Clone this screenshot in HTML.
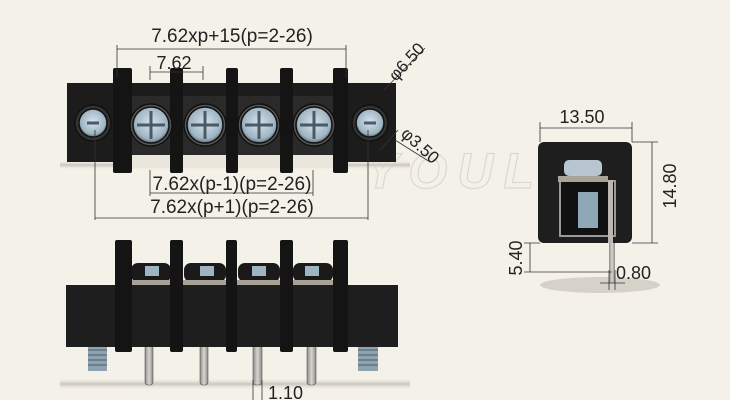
<!DOCTYPE html>
<html><head><meta charset="utf-8"><style>
html,body{margin:0;padding:0;background:#f4f1e9;}
svg{display:block}
text{font-family:"Liberation Sans",sans-serif;fill:#222;}
</style></head><body>
<svg width="730" height="400" viewBox="0 0 730 400" xmlns="http://www.w3.org/2000/svg">
<defs>
<radialGradient id="scr" cx="50%" cy="45%" r="55%"><stop offset="0" stop-color="#d6e4ee"/><stop offset="0.8" stop-color="#9fb4c2"/><stop offset="1" stop-color="#5d6c76"/></radialGradient>
<linearGradient id="pin" x1="0" x2="1"><stop offset="0" stop-color="#8c8a86"/><stop offset="0.5" stop-color="#d8d6d0"/><stop offset="1" stop-color="#8c8a86"/></linearGradient>
<linearGradient id="shd" x1="0" y1="0" x2="0" y2="1"><stop offset="0" stop-color="#f4f1e9" stop-opacity="0"/><stop offset="0.5" stop-color="#c9c5bc"/><stop offset="1" stop-color="#f4f1e9" stop-opacity="0"/></linearGradient>
</defs>
<rect width="730" height="400" fill="#f4f1e9"/>

<!-- watermark -->
<text x="365" y="188" font-size="50" font-style="italic" font-weight="bold" stroke="#dcd8cf" stroke-width="1.2" style="fill:none" letter-spacing="10">YOULE</text>

<!-- ===== TOP VIEW ===== -->
<rect x="60" y="160" width="350" height="10" fill="url(#shd)"/>
<rect x="67" y="83" width="329" height="79" fill="#1c1c1c"/>
<rect x="130" y="96" width="205" height="62" fill="#2a2a2a"/>
<rect x="130" y="155" width="205" height="12" fill="#eae6dc"/>
<g fill="#141414">
<rect x="113" y="68" width="19" height="105" rx="2"/>
<rect x="170" y="68" width="13" height="105" rx="2"/>
<rect x="226" y="68" width="12" height="105" rx="2"/>
<rect x="280" y="68" width="13" height="105" rx="2"/>
<rect x="333" y="68" width="15" height="105" rx="2"/>
</g>
<g stroke="#111" stroke-width="1.5">
<circle cx="93" cy="123" r="18" fill="#333"/><circle cx="93" cy="123" r="14" fill="url(#scr)"/>
<circle cx="370" cy="123" r="18" fill="#333"/><circle cx="370" cy="123" r="14" fill="url(#scr)"/>
<circle cx="151" cy="125" r="21" fill="#555"/><circle cx="151" cy="125" r="18" fill="url(#scr)"/>
<circle cx="205" cy="125" r="21" fill="#555"/><circle cx="205" cy="125" r="18" fill="url(#scr)"/>
<circle cx="259" cy="125" r="21" fill="#555"/><circle cx="259" cy="125" r="18" fill="url(#scr)"/>
<circle cx="314" cy="125" r="21" fill="#555"/><circle cx="314" cy="125" r="18" fill="url(#scr)"/>
</g>
<g stroke="#4a5a66" stroke-width="3">
<path d="M151 111v28M137 125h28M205 111v28M191 125h28M259 111v28M245 125h28M314 111v28M300 125h28M87 123h12M364 123h12"/>
</g>

<!-- top dims -->
<g stroke="#333" stroke-width="0.8" fill="none">
<path d="M117 49H346M117 45V78M346 45V78"/>
<path d="M150 72H203M150 66V80M203 66V80"/>
<path d="M150 193H313M150 170V196M313 170V196"/>
<path d="M95 218H368M95 130V220M368 130V220"/>
<path d="M384 90L425 48"/>
<path d="M380 150L398 130M395 140L430 162"/>
</g>
<text x="232" y="42" font-size="19" text-anchor="middle">7.62xp+15(p=2-26)</text>
<text x="174" y="69" font-size="18" text-anchor="middle">7.62</text>
<text x="232" y="190" font-size="19" text-anchor="middle">7.62x(p-1)(p=2-26)</text>
<text x="232" y="213" font-size="19" text-anchor="middle">7.62x(p+1)(p=2-26)</text>
<text x="0" y="0" font-size="17" transform="translate(396,82) rotate(-48)">φ6.50</text>
<text x="0" y="0" font-size="17" transform="translate(400,135) rotate(42)">φ3.50</text>

<!-- ===== SIDE VIEW ===== -->
<ellipse cx="600" cy="285" rx="60" ry="8" fill="#d6d2ca"/>
<rect x="538" y="142" width="94" height="101" rx="6" fill="#1e1e1e"/>
<rect x="560" y="181" width="55" height="55" fill="#111" stroke="#999" stroke-width="2"/>
<rect x="578" y="192" width="20" height="36" fill="#8fa8b8"/>
<rect x="564" y="160" width="38" height="16" rx="5" fill="#b7c6d0"/>
<rect x="558" y="176" width="50" height="6" fill="#aaa39a"/>
<rect x="608" y="180" width="5" height="63" fill="#bcb8b0"/>
<rect x="609" y="243" width="6" height="40" fill="url(#pin)"/>
<g stroke="#333" stroke-width="0.8" fill="none">
<path d="M540 128H632M540 122V142M632 122V142"/>
<path d="M652 142V243M632 142H658M632 243H658"/>
<path d="M530 243V272M524 243H540M524 272H612"/>
<path d="M600 283H625M609 270V290M615 270V290"/>
</g>
<text x="582" y="123" font-size="18" text-anchor="middle">13.50</text>
<text x="0" y="0" font-size="18" text-anchor="middle" transform="translate(676,186) rotate(-90)">14.80</text>
<text x="0" y="0" font-size="18" text-anchor="middle" transform="translate(522,258) rotate(-90)">5.40</text>
<text x="616" y="279" font-size="18">0.80</text>

<!-- ===== FRONT VIEW ===== -->
<rect x="60" y="378" width="350" height="12" fill="url(#shd)"/>
<g fill="url(#pin)" stroke="#555" stroke-width="0.6">
<rect x="145" y="345" width="8" height="40" rx="3"/>
<rect x="200" y="345" width="8" height="40" rx="3"/>
<rect x="253" y="345" width="9" height="40" rx="3"/>
<rect x="307" y="345" width="9" height="40" rx="3"/>
</g>
<g fill="#8ea3b2">
<rect x="88" y="345" width="19" height="26"/>
<rect x="358" y="345" width="20" height="26"/>
</g>
<g stroke="#5b6a74" stroke-width="1.2">
<path d="M88 350h19M88 355h19M88 360h19M88 365h19M358 350h20M358 355h20M358 360h20M358 365h20"/>
</g>
<g fill="#1a1a1a">
<rect x="131" y="263" width="40" height="19" rx="7"/>
<rect x="184" y="263" width="42" height="19" rx="7"/>
<rect x="238" y="263" width="42" height="19" rx="7"/>
<rect x="293" y="263" width="40" height="19" rx="7"/>
</g>
<g fill="#9fb4c2">
<rect x="145" y="266" width="14" height="10"/><rect x="200" y="266" width="14" height="10"/>
<rect x="252" y="266" width="14" height="10"/><rect x="305" y="266" width="14" height="10"/>
</g>
<rect x="130" y="280" width="205" height="6" fill="#a8a296"/>
<rect x="66" y="285" width="332" height="62" fill="#1e1e1e"/>
<g fill="#141414">
<rect x="115" y="240" width="17" height="112" rx="2"/>
<rect x="170" y="240" width="13" height="112" rx="2"/>
<rect x="226" y="240" width="11" height="112" rx="2"/>
<rect x="280" y="240" width="13" height="112" rx="2"/>
<rect x="333" y="240" width="15" height="112" rx="2"/>
</g>
<g stroke="#333" stroke-width="0.8" fill="none">
<path d="M253 380V400M262 380V400"/>
</g>
<text x="268" y="399" font-size="18">1.10</text>
</svg>
</body></html>
